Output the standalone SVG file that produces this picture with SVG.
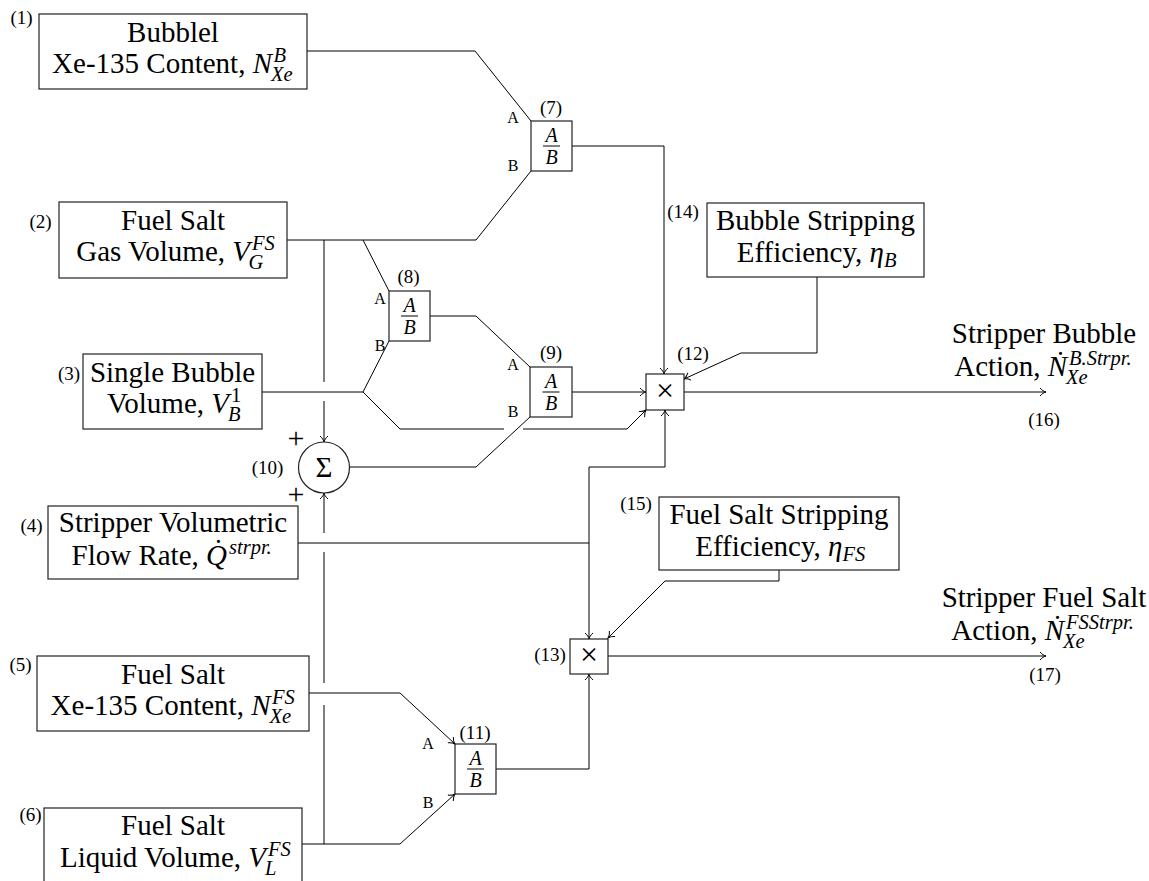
<svg xmlns="http://www.w3.org/2000/svg" width="1149" height="881" viewBox="0 0 1149 881" font-family="'Liberation Serif', Tinos, 'DejaVu Serif', 'Noto Serif', FreeSerif, 'Times New Roman', Times, serif">
<style>
text{font-family:'Liberation Serif',Tinos,'DejaVu Serif','Noto Serif',FreeSerif,'Times New Roman',Times,serif;fill:#000}
.t{font-size:29px}
.i{font-style:italic}
.s{font-size:20.5px;font-style:italic}
.sr{font-size:20.5px}
.lbl{font-size:19px}
.ab{font-size:16px}
.fr{font-size:20px;font-style:italic}
.op{font-size:32px}
.box{fill:#fff;stroke:#222;stroke-width:1.2}
.ln{fill:none;stroke:#000;stroke-width:1}
.arr{marker-end:url(#ah)}
</style>
<defs>
<marker id="ah" viewBox="-8 -5 10 10" refX="0" refY="0" markerWidth="10" markerHeight="10" markerUnits="userSpaceOnUse" orient="auto">
<path d="M-6,-4 C-4,-1.5 -1.5,-0.4 0,0 C-1.5,0.4 -4,1.5 -6,4" fill="none" stroke="#000" stroke-width="1"/>
</marker>
</defs>
<rect x="0" y="0" width="1149" height="881" fill="#fff"/>

<g id="connectors">
<path class="ln" d="M307,51 H475 L531,121"/>
<path class="ln" d="M287,240 H476 L531,171"/>
<path class="ln" d="M363,240 L389,291"/>
<path class="ln" d="M324,240 V382"/>
<path class="ln arr" d="M324,401 V442"/>
<path class="ln" d="M262,392 H363 L389,341"/>
<path class="ln" d="M363,392 L400,429 H504"/>
<path class="ln arr" d="M523,429 H627 L646,410"/>
<path class="ln" d="M430,316 H476 L530,367"/>
<path class="ln" d="M349.5,467 H476 L530,417"/>
<path class="ln arr" d="M572,392 H646"/>
<path class="ln arr" d="M572,146 H664 V374"/>
<path class="ln arr" d="M817,277 V353 H741 L684,379"/>
<path class="ln arr" d="M684,392 H1046"/>
<path class="ln" d="M298,543 H589"/>
<path class="ln arr" d="M589,467 V639"/>
<path class="ln arr" d="M589,467 H665 V410"/>
<path class="ln arr" d="M779,570 V581 H665 L608,638"/>
<path class="ln arr" d="M608,656 H1046"/>
<path class="ln arr" d="M496,769 H589 V674"/>
<path class="ln arr" d="M309,693 H400 L455,744"/>
<path class="ln arr" d="M302,844 H400 L455,794"/>
<path class="ln" d="M324,844 V705"/>
<path class="ln" d="M324,683 V552"/>
<path class="ln arr" d="M324,533 V493"/>
</g>

<g id="n1">
<rect class="box" x="39" y="14" width="268" height="75"/>
<text class="t" x="173" y="42" text-anchor="middle">Bubblel</text>
<text class="t" x="272" y="73" text-anchor="end">Xe-135 Content, <tspan class="i">N</tspan></text>
<text class="s" x="273.5" y="62">B</text>
<text class="s" x="271" y="81">Xe</text>
<text class="lbl" x="21.5" y="24" text-anchor="middle">(1)</text>
</g>

<g id="n2">
<rect class="box" x="59" y="202" width="228" height="76"/>
<text class="t" x="173" y="230" text-anchor="middle">Fuel Salt</text>
<text class="t" x="250" y="261" text-anchor="end">Gas Volume, <tspan class="i">V</tspan></text>
<text class="s" x="252" y="250">FS</text>
<text class="s" x="248.5" y="269">G</text>
<text class="lbl" x="40.5" y="228" text-anchor="middle">(2)</text>
</g>

<g id="n3">
<rect class="box" x="83" y="354" width="179" height="75"/>
<text class="t" x="172.5" y="382" text-anchor="middle">Single Bubble</text>
<text class="t" x="229" y="413" text-anchor="end">Volume, <tspan class="i">V</tspan></text>
<text class="sr" x="231" y="402">1</text>
<text class="s" x="228" y="421">B</text>
<text class="lbl" x="69" y="380" text-anchor="middle">(3)</text>
</g>

<g id="n4">
<rect class="box" x="48" y="506" width="250" height="73"/>
<text class="t" x="173" y="532" text-anchor="middle">Stripper Volumetric</text>
<text class="t" x="227" y="565" text-anchor="end">Flow Rate, <tspan class="i">Q̇</tspan></text>
<text class="s" x="229" y="554">strpr.</text>
<text class="lbl" x="31.5" y="532" text-anchor="middle">(4)</text>
</g>

<g id="n5">
<rect class="box" x="37" y="656" width="272" height="75"/>
<text class="t" x="173" y="684" text-anchor="middle">Fuel Salt</text>
<text class="t" x="270.5" y="715" text-anchor="end">Xe-135 Content, <tspan class="i">N</tspan></text>
<text class="s" x="272" y="704">FS</text>
<text class="s" x="269.5" y="723">Xe</text>
<text class="lbl" x="20.5" y="671" text-anchor="middle">(5)</text>
</g>

<g id="n6">
<rect class="box" x="44" y="808" width="258" height="80"/>
<text class="t" x="173" y="835" text-anchor="middle">Fuel Salt</text>
<text class="t" x="266" y="867" text-anchor="end">Liquid Volume, <tspan class="i">V</tspan></text>
<text class="s" x="268" y="856">FS</text>
<text class="s" x="265" y="875">L</text>
<text class="lbl" x="30.5" y="821" text-anchor="middle">(6)</text>
</g>

<g id="n7">
<rect class="box" x="531" y="121" width="41" height="50"/>
<text class="fr" x="551.5" y="141.5" text-anchor="middle">A</text>
<line class="ln" x1="543" y1="146" x2="560" y2="146"/>
<text class="fr" x="551.5" y="164" text-anchor="middle">B</text>
<text class="lbl" x="551" y="114" text-anchor="middle">(7)</text>
<text class="ab" x="513" y="123" text-anchor="middle">A</text>
<text class="ab" x="513" y="170.5" text-anchor="middle">B</text>
</g>

<g id="n8">
<rect class="box" x="389" y="291" width="41" height="50"/>
<text class="fr" x="409.5" y="311.5" text-anchor="middle">A</text>
<line class="ln" x1="401" y1="316" x2="418" y2="316"/>
<text class="fr" x="409.5" y="334" text-anchor="middle">B</text>
<text class="lbl" x="408.5" y="283" text-anchor="middle">(8)</text>
<text class="ab" x="380" y="303.5" text-anchor="middle">A</text>
<text class="ab" x="380" y="350.5" text-anchor="middle">B</text>
</g>

<g id="n9">
<rect class="box" x="530" y="367" width="42" height="50"/>
<text class="fr" x="551" y="387.5" text-anchor="middle">A</text>
<line class="ln" x1="542.5" y1="392" x2="559.5" y2="392"/>
<text class="fr" x="551" y="410" text-anchor="middle">B</text>
<text class="lbl" x="551" y="359" text-anchor="middle">(9)</text>
<text class="ab" x="513" y="369.5" text-anchor="middle">A</text>
<text class="ab" x="513" y="416.5" text-anchor="middle">B</text>
</g>

<g id="n10">
<circle cx="324" cy="467.5" r="25.5" fill="#fff" stroke="#222" stroke-width="1.2"/>
<text class="t" x="324" y="477" text-anchor="middle">Σ</text>
<text class="op" x="296" y="448" text-anchor="middle" style="font-size:30px">+</text>
<text class="op" x="296" y="504" text-anchor="middle" style="font-size:30px">+</text>
<text class="lbl" x="267.5" y="474" text-anchor="middle">(10)</text>
</g>

<g id="n11">
<rect class="box" x="455" y="744" width="41" height="50"/>
<text class="fr" x="475.5" y="764.5" text-anchor="middle">A</text>
<line class="ln" x1="467" y1="769" x2="484" y2="769"/>
<text class="fr" x="475.5" y="787" text-anchor="middle">B</text>
<text class="lbl" x="475" y="739" text-anchor="middle">(11)</text>
<text class="ab" x="428" y="748.5" text-anchor="middle">A</text>
<text class="ab" x="428" y="807.5" text-anchor="middle">B</text>
</g>

<g id="n12">
<rect class="box" x="646" y="374" width="38" height="36"/>
<text class="op" x="665" y="400.5" text-anchor="middle">×</text>
<text class="lbl" x="693" y="360" text-anchor="middle">(12)</text>
</g>

<g id="n13">
<rect class="box" x="570" y="639" width="38" height="35"/>
<text class="op" x="589" y="665" text-anchor="middle">×</text>
<text class="lbl" x="550" y="661" text-anchor="middle">(13)</text>
</g>

<g id="n14">
<rect class="box" x="707" y="203" width="217" height="74"/>
<text class="t" x="815.5" y="230" text-anchor="middle">Bubble Stripping</text>
<text class="t" x="884" y="262" text-anchor="end">Efficiency, <tspan class="i">η</tspan></text>
<text class="s" x="884" y="267">B</text>
<text class="lbl" x="683" y="218" text-anchor="middle">(14)</text>
</g>

<g id="n15">
<rect class="box" x="659" y="497" width="240" height="73"/>
<text class="t" x="779" y="524" text-anchor="middle">Fuel Salt Stripping</text>
<text class="t" x="842.5" y="556" text-anchor="end">Efficiency, <tspan class="i">η</tspan></text>
<text class="s" x="842.5" y="561">FS</text>
<text class="lbl" x="636" y="510" text-anchor="middle">(15)</text>
</g>

<g id="n16">
<text class="t" x="1044" y="343" text-anchor="middle">Stripper Bubble</text>
<text class="t" x="1067" y="376" text-anchor="end">Action, <tspan class="i">Ṅ</tspan></text>
<text class="s" x="1069" y="365">B.Strpr.</text>
<text class="s" x="1066" y="384">Xe</text>
<text class="lbl" x="1044" y="426" text-anchor="middle">(16)</text>
</g>

<g id="n17">
<text class="t" x="1044" y="607" text-anchor="middle">Stripper Fuel Salt</text>
<text class="t" x="1064" y="640" text-anchor="end">Action, <tspan class="i">Ṅ</tspan></text>
<text class="s" x="1066" y="629">FSStrpr.</text>
<text class="s" x="1063" y="648">Xe</text>
<text class="lbl" x="1045" y="681" text-anchor="middle">(17)</text>
</g>
</svg>
